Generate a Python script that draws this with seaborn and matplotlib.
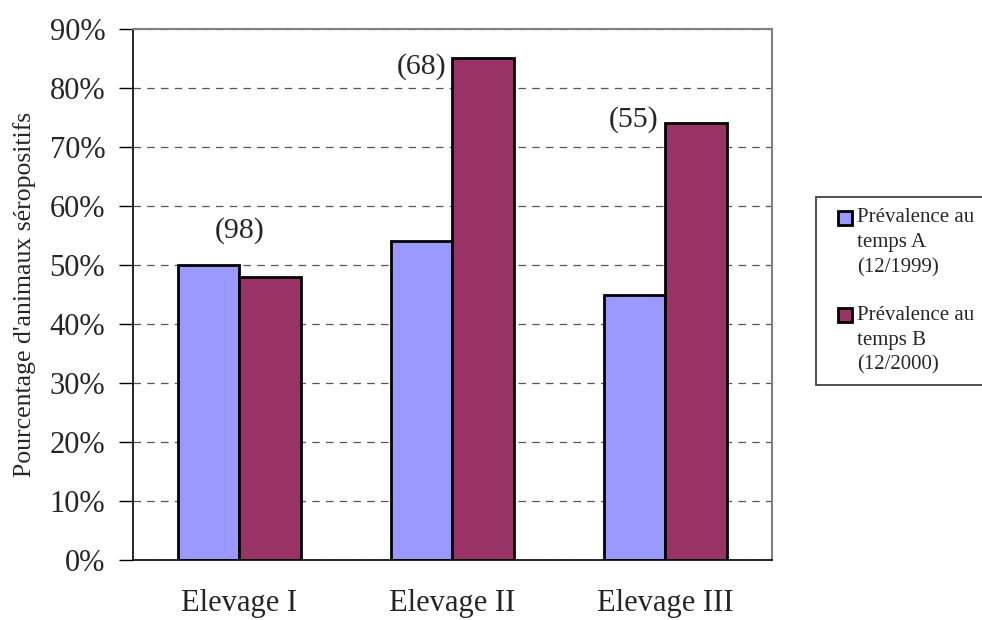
import matplotlib
matplotlib.use("Agg")
import matplotlib.pyplot as plt
import seaborn as sns
import pandas as pd
from matplotlib.ticker import FixedLocator
from matplotlib.patches import Rectangle
from matplotlib.transforms import Affine2D

# Herd names and seroprevalence at the two sampling dates
elevages = ["Elevage I", "Elevage II", "Elevage III"]
prev_a = [50, 54, 45]   # 12/1999
prev_b = [48, 85, 74]   # 12/2000
effectifs = ["(98)", "(68)", "(55)"]
serie_labels = ["Prévalence au\ntemps A\n(12/1999)", "Prévalence au\ntemps B\n(12/2000)"]
couleurs = ["#9999FF", "#993366"]

df = pd.DataFrame({
    "elevage": elevages * 2,
    "valeur": prev_a + prev_b,
    "serie": [serie_labels[0]] * 3 + [serie_labels[1]] * 3,
})

sns.set_style("white")
plt.rcParams["font.family"] = ["Liberation Serif", "DejaVu Serif"]

W, H = 982, 620
fig = plt.figure(figsize=(W / 100, H / 100), dpi=100)
ax = fig.add_axes([133 / W, 60 / H, 639 / W, 531 / H])

sns.barplot(data=df, x="elevage", y="valeur", hue="serie", palette=couleurs,
            width=0.58, edgecolor="black", linewidth=2, ax=ax, saturation=1)

ax.set_xlim(-0.5, 2.5)
ax.set_ylim(0, 90)
ax.set_yticks(range(0, 91, 10))
ax.set_yticklabels([f"{v}%" for v in range(0, 91, 10)], fontsize=22)
ax.yaxis.grid(True, linestyle=(0, (6, 5)), color="#555555", linewidth=0.9)
ax.set_axisbelow(True)

# Category boundaries carry the x ticks, labels sit under the groups
ax.tick_params(axis="x", which="major", length=0, labelsize=22, pad=21)
ax.xaxis.set_minor_locator(FixedLocator([-0.5, 0.5, 1.5, 2.5]))
ax.tick_params(axis="x", which="minor", length=10, width=1, color="black", direction="out")
ax.tick_params(axis="y", length=10, width=1, color="black", direction="out", left=True, pad=10)
ax.set_xlabel("")
ax.set_ylabel("Pourcentage d'animaux séropositifs", fontsize=18.5, labelpad=10)

for side in ["left", "bottom"]:
    ax.spines[side].set_color("black")
    ax.spines[side].set_linewidth(1.2)
for side in ["top", "right"]:
    ax.spines[side].set_visible(True)
    ax.spines[side].set_color("#808080")
    ax.spines[side].set_linewidth(1.5)

# Sample sizes written beside the bars
ax.text(0, 55.9, effectifs[0], ha="center", va="center", fontsize=21.5)
ax.text(0.974, 83.7, effectifs[1], ha="right", va="center", fontsize=21.5)
ax.text(1.965, 74.6, effectifs[2], ha="right", va="center", fontsize=21.5)

# Legend box drawn in pixel coordinates (origin at top-left)
ax.legend_.remove()
px = Affine2D().scale(1 / W, -1 / H).translate(0, 1) + fig.transFigure
fig.add_artist(Rectangle((816, 197), 200, 188, transform=px, facecolor="white",
                         edgecolor="#333333", linewidth=1.2, clip_on=False))
for i, (lab, col) in enumerate(zip(serie_labels, couleurs)):
    y0 = 218 + i * 97
    fig.add_artist(Rectangle((838, y0 - 7), 14, 14, transform=px, facecolor=col,
                             edgecolor="black", linewidth=2, clip_on=False))
    for j, line in enumerate(lab.split("\n")):
        fig.text(857 / W, 1 - (y0 + j * 25) / H, line, fontsize=15,
                 ha="left", va="center")

fig.savefig("out.png", dpi=100)
